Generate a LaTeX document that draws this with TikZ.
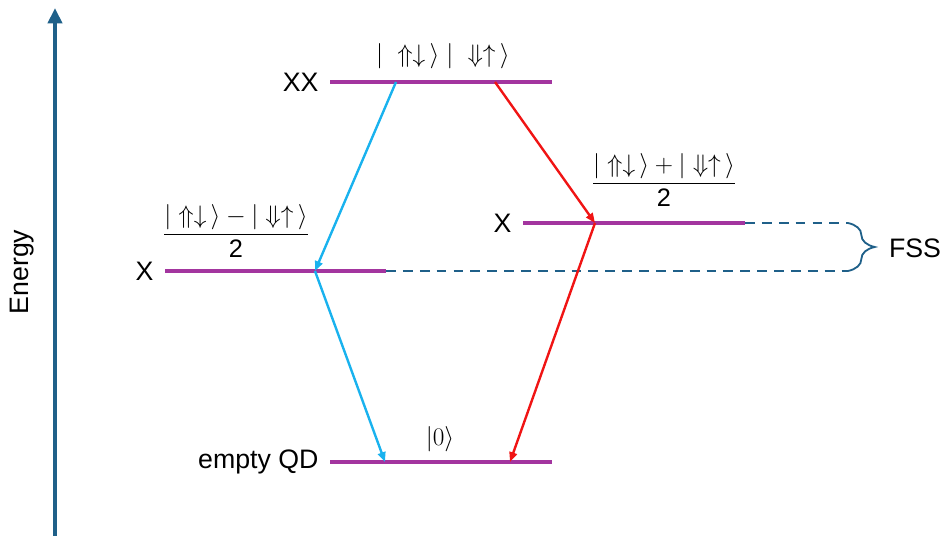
\documentclass[tikz,border=0pt]{standalone}
\usepackage{fix-cm}
\usepackage{amsmath}
\usepackage{fontspec}
\setmainfont{Liberation Sans}
\usetikzlibrary{arrows.meta, decorations.pathreplacing, positioning}
\definecolor{levelpurple}{HTML}{A3359F}
\definecolor{axisblue}{HTML}{1F6089}
\definecolor{photonblue}{HTML}{19B2EE}
\definecolor{photonred}{HTML}{F01414}

\begin{document}
\begin{tikzpicture}[
  x=0.025cm, y=-0.025cm,
  every node/.style={font=\fontsize{19}{23}\selectfont, inner sep=1pt},
  ket/.style={font=\fontsize{18}{22}\selectfont},
  level/.style={draw=levelpurple, line width=2.8pt},
  photonb/.style={draw=photonblue, line width=1.7pt, -{Triangle[length=7pt,width=5.5pt]}},
  photonr/.style={draw=photonred, line width=1.7pt, -{Triangle[length=7pt,width=5.5pt]}},
  guide/.style={draw=axisblue, line width=1.2pt, dash pattern=on 7pt off 5pt}
]
\useasboundingbox (0,0) rectangle (943,536);
% energy axis
\coordinate (ebot) at (55,536);
\coordinate (etop) at (55,8);
\draw[axisblue, line width=2.8pt, -{Triangle[length=11pt,width=10pt]}] (ebot) -- (etop);
\node[rotate=90] (energy) at (22,272) {Energy};
% levels
\coordinate (XXl) at (330,82);  \coordinate (XXr) at (552,82);
\coordinate (Xal) at (165,271); \coordinate (Xar) at (386,271);
\coordinate (Xbl) at (523,223); \coordinate (Xbr) at (745,223);
\coordinate (Gl) at (330,462);  \coordinate (Gr) at (552,462);
\draw[level] (XXl) -- (XXr);
\draw[level] (Xal) -- (Xar);
\draw[level] (Xbl) -- (Xbr);
\draw[level] (Gl) -- (Gr);
\node[left=7pt of XXl] (xxlbl) {XX};
\node[left=7pt of Xal] (xalbl) {X};
\node[left=7pt of Xbl] (xblbl) {X};
\node[left=7pt of Gl] (glbl) {empty QD};
\node[ket] (xxket) at (443,56) {$|\ \Uparrow\downarrow\,\rangle\;|\ \Downarrow\uparrow\,\rangle$};
\node[ket] (xaket) at (236,231) {$\dfrac{|\Uparrow\downarrow\,\rangle - |\Downarrow\uparrow\,\rangle}{\text{2}}$};
\node[ket] (xbket) at (664,180) {$\dfrac{|\Uparrow\downarrow\,\rangle + |\Downarrow\uparrow\,\rangle}{\text{2}}$};
\node[ket] (gket) at (440,439) {$|0\rangle$};
% fine structure splitting
\coordinate (fsst) at (848,223);
\coordinate (fssb) at (848,271);
\draw[guide] (Xbr) -- (fsst);
\draw[guide] (Xar) -- (fssb);
\draw[axisblue, line width=1.3pt, decorate, decoration={brace, amplitude=19pt}] (fsst) -- (fssb);
\node (fss) at (915,248) {FSS};
% cascade
\coordinate (XXa) at (396,82);
\coordinate (XXb) at (495,82);
\coordinate (Xam) at (315,271);
\coordinate (Xbm) at (595,223);
\coordinate (Ga) at (385,462);
\coordinate (Gb) at (510,462);
\draw[photonb] (XXa) -- (Xam);
\draw[photonb] (Xam) -- (Ga);
\draw[photonr] (XXb) -- (Xbm);
\draw[photonr] (Xbm) -- (Gb);
\end{tikzpicture}
\end{document}
